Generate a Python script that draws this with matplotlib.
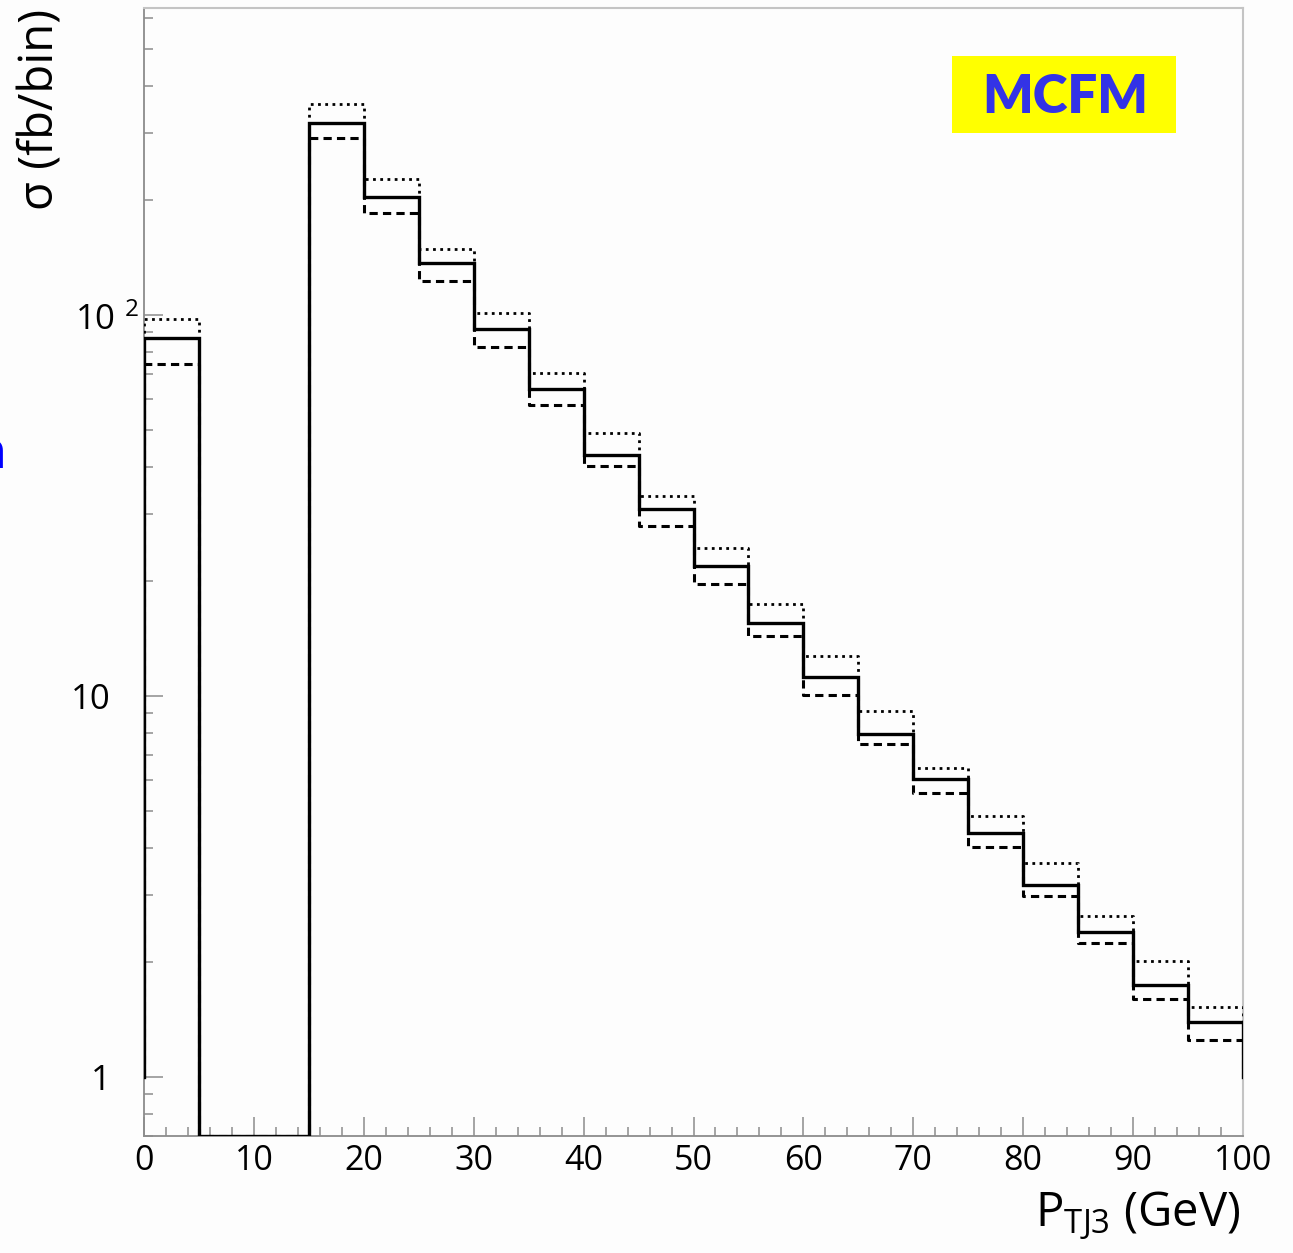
import numpy as np
import matplotlib
matplotlib.use("Agg")
import matplotlib.pyplot as plt
import matplotlib.transforms as mtransforms
from matplotlib.patches import Rectangle
from matplotlib.ticker import FixedLocator, LogLocator, NullFormatter, MultipleLocator

# ---------------- data ----------------
bin_edges = [0, 5, 10, 15, 20, 25, 30, 35, 40, 45, 50,
             55, 60, 65, 70, 75, 80, 85, 90, 95, 100]
# central prediction (solid)
sigma_central = [87.0, 0, 0, 319, 204, 137, 91.9, 63.9, 42.9, 31.0,
                 21.9, 15.5, 11.2, 7.95, 6.06, 4.37, 3.19, 2.40, 1.74, 1.39]
# upper scale variation (dotted)
sigma_dotted = [97.6, 0, 0, 358, 227, 149, 101, 70.4, 49.0, 33.5,
                24.5, 17.4, 12.7, 9.13, 6.47, 4.84, 3.64, 2.65, 2.02, 1.53]
# lower scale variation (dashed)
sigma_dashed = [74.3, 0, 0, 291, 185, 123, 82.4, 58.0, 40.1, 27.9,
                19.7, 14.4, 10.06, 7.48, 5.57, 4.01, 2.99, 2.25, 1.60, 1.25]
edge_base = 1.0  # level at which the outer edges of the histograms end

x_tick_values = [0, 10, 20, 30, 40, 50, 60, 70, 80, 90, 100]
x_tick_labels = ["0", "10", "20", "30", "40", "50", "60", "70", "80", "90", "100"]
y_tick_values = [1, 10, 100]
y_tick_labels = ["1", "10", "10 ${}^{2}$"]

x_label = "P$_{\\mathregular{TJ3}}$ (GeV)"
y_label = "σ (fb/bin)"
tag_text = "MCFM"

# ---------------- style ----------------
W, H = 1293, 1253
plt.rcParams["font.family"] = ["Open Sans", "DejaVu Sans"]
plt.rcParams["mathtext.fontset"] = "custom"
plt.rcParams["mathtext.rm"] = "Open Sans"
plt.rcParams["mathtext.it"] = "Open Sans:italic"
plt.rcParams["mathtext.bf"] = "Open Sans:bold"
plt.rcParams["mathtext.default"] = "regular"

fig = plt.figure(figsize=(W / 100, H / 100), dpi=100, facecolor="#fdfdfd")
ax = fig.add_axes([144 / W, 1 - 1136 / H, (1243 - 144) / W, (1136 - 8) / H])
ax.set_facecolor("#fdfdfd")

y_lo, y_hi = 0.70, 639
ax.set_yscale("log")
ax.set_xlim(bin_edges[0], bin_edges[-1])
ax.set_ylim(y_lo, y_hi)


def draw_hist(vals, **kw):
    v = np.maximum(np.asarray(vals, dtype=float), y_lo)
    xs = np.repeat(np.asarray(bin_edges, dtype=float), 2)
    ys = np.concatenate([[edge_base], np.repeat(v, 2), [edge_base]])
    ax.plot(xs, ys, color="black", solid_joinstyle="miter", **kw)


draw_hist(sigma_dotted, lw=2.0, ls=(0, (1.0, 1.6)), zorder=3)
draw_hist(sigma_dashed, lw=2.2, ls=(0, (2.7, 1.7)), zorder=3)
draw_hist(sigma_central, lw=2.4, ls="-", zorder=4)

# spines
for s in ("left", "bottom"):
    ax.spines[s].set_color("#8c8c8c")
    ax.spines[s].set_linewidth(1.3)
for s in ("top", "right"):
    ax.spines[s].set_color("#c4c4c4")
    ax.spines[s].set_linewidth(1.5)

# x ticks
ax.xaxis.set_major_locator(FixedLocator(x_tick_values))
ax.set_xticklabels(x_tick_labels)
ax.xaxis.set_minor_locator(MultipleLocator(2))
ax.tick_params(axis="x", which="major", direction="in", length=13.5, width=1.1,
               color="#8c8c8c", labelsize=24.5, pad=6, labelcolor="black")
ax.tick_params(axis="x", which="minor", direction="in", length=6.5, width=1.1,
               color="#8c8c8c")

# y ticks
ax.yaxis.set_major_locator(FixedLocator(y_tick_values))
ax.yaxis.set_minor_locator(LogLocator(base=10, subs=range(2, 10)))
ax.yaxis.set_minor_formatter(NullFormatter())
ax.set_yticklabels(["" for _ in y_tick_values])
ax.tick_params(axis="y", which="major", direction="in", length=13.5, width=1.1,
               color="#8c8c8c")
ax.tick_params(axis="y", which="minor", direction="in", length=6.5, width=1.1,
               color="#8c8c8c")
ax.tick_params(top=False, right=False, which="both")

ytrans = mtransforms.blended_transform_factory(ax.transAxes, ax.transData)
for val, lab in zip(y_tick_values, y_tick_labels):
    if "{}" in lab:
        t = ytrans + mtransforms.ScaledTranslation(-69 / 100, -2 / 100, fig.dpi_scale_trans)
        ax.text(0, val, lab, transform=t, ha="left", va="center_baseline",
                fontsize=25)
    else:
        t = ytrans + mtransforms.ScaledTranslation(-33 / 100, 0, fig.dpi_scale_trans)
        ax.text(0, val, lab, transform=t, ha="right", va="center_baseline",
                fontsize=25)

# axis labels
ax.set_ylabel(y_label, fontsize=34, loc="top")
ax.yaxis.set_label_coords(-0.072, 0.999)
ax.set_xlabel(x_label, fontsize=34, loc="right")
ax.xaxis.set_label_coords(0.9975, -0.047)

# MCFM tag
fig.add_artist(Rectangle((952 / W, 1 - 133 / H), 224 / W, 77 / H,
                         transform=fig.transFigure, facecolor="#ffff00",
                         edgecolor="none", zorder=5))
fig.text(1065 / W, 1 - 113 / H, tag_text, ha="center", va="baseline",
         fontsize=38, fontweight="heavy", color="#3333e6", family="Lato",
         zorder=6)

# fragment of blue slide text at the left edge
fig.text(6 / W, 1 - 468 / H, "n", ha="right", va="baseline", fontsize=38,
         fontweight="bold", color="#0000ff", family="Lato")

fig.savefig("out.png", dpi=100, facecolor=fig.get_facecolor())
